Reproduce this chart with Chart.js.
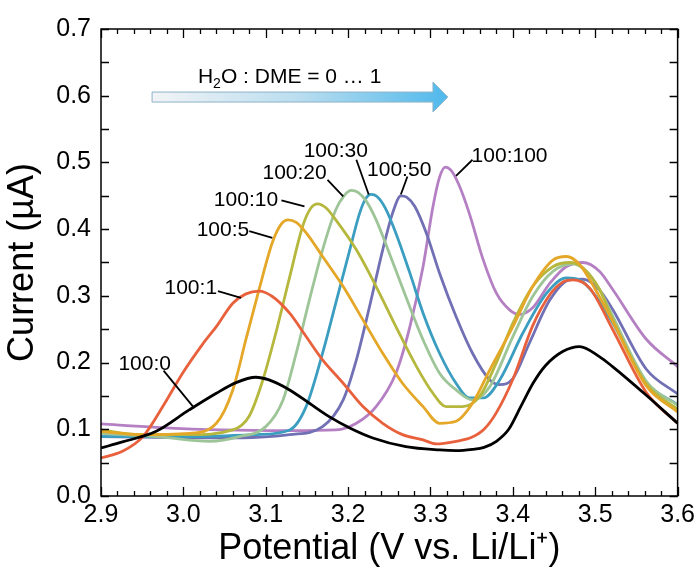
<!DOCTYPE html>
<html>
<head>
<meta charset="utf-8">
<script src="https://cdn.jsdelivr.net/npm/chart.js@4.4.1/dist/chart.umd.min.js"></script>
<style>
html,body{margin:0;padding:0;background:#fff}
#wrap{width:699px;height:572px}
</style>
</head>
<body>
<div id="wrap"><canvas id="c" width="699" height="572"></canvas></div>
<script>
// ===== DATA (potential V, current uA) =====
const names = ["100:0","100:1","100:5","100:10","100:20","100:30","100:50","100:100"];
const colors = ["#000000","#e8613c","#e5a727","#b5b83d","#9ec597","#3b9ec1","#7270b4","#b580c3"];

const pot0 = [2.900,2.926,2.967,3.007,3.040,3.064,3.088,3.104,3.129,3.153,3.177,3.202,3.230,3.270,3.311,3.331,3.351,3.365,3.380,3.395,3.410,3.425,3.440,3.461,3.481,3.505,3.521,3.562,3.600];
const cur0 = [0.072,0.081,0.097,0.129,0.154,0.170,0.178,0.174,0.159,0.139,0.119,0.102,0.087,0.074,0.069,0.068,0.070,0.073,0.082,0.100,0.135,0.170,0.196,0.217,0.224,0.209,0.194,0.151,0.109];

const pot1 = [2.900,2.926,2.951,2.975,2.999,3.023,3.040,3.060,3.076,3.092,3.108,3.129,3.149,3.169,3.194,3.218,3.242,3.266,3.291,3.307,3.331,3.350,3.365,3.380,3.400,3.424,3.445,3.461,3.473,3.493,3.521,3.562,3.600];
const cur1 = [0.057,0.067,0.089,0.134,0.184,0.227,0.254,0.289,0.303,0.307,0.299,0.274,0.239,0.204,0.169,0.134,0.109,0.092,0.084,0.078,0.082,0.088,0.100,0.125,0.175,0.255,0.302,0.321,0.324,0.312,0.250,0.155,0.109];

const pot2 = [2.900,2.947,3.007,3.040,3.060,3.076,3.092,3.108,3.119,3.127,3.137,3.150,3.169,3.194,3.218,3.242,3.266,3.291,3.311,3.331,3.351,3.372,3.400,3.424,3.449,3.465,3.481,3.500,3.521,3.562,3.600];
const cur2 = [0.097,0.092,0.094,0.109,0.159,0.235,0.310,0.380,0.408,0.414,0.410,0.393,0.359,0.314,0.264,0.214,0.169,0.134,0.109,0.112,0.139,0.189,0.254,0.314,0.354,0.359,0.347,0.310,0.262,0.165,0.126];

const pot3 = [2.900,2.947,3.007,3.060,3.080,3.096,3.113,3.129,3.145,3.155,3.163,3.173,3.185,3.210,3.234,3.258,3.283,3.303,3.319,3.339,3.360,3.380,3.400,3.424,3.449,3.469,3.485,3.505,3.521,3.562,3.600];
const cur3 = [0.099,0.092,0.092,0.099,0.120,0.172,0.248,0.328,0.405,0.432,0.438,0.432,0.414,0.369,0.314,0.254,0.194,0.154,0.134,0.134,0.150,0.200,0.259,0.314,0.344,0.350,0.342,0.310,0.265,0.168,0.130];

const pot4 = [2.900,2.967,3.032,3.068,3.100,3.121,3.137,3.153,3.169,3.185,3.195,3.204,3.212,3.222,3.234,3.250,3.270,3.291,3.311,3.331,3.351,3.372,3.400,3.424,3.449,3.473,3.489,3.505,3.521,3.562,3.600];
const cur4 = [0.094,0.089,0.082,0.089,0.104,0.144,0.214,0.294,0.369,0.429,0.450,0.458,0.455,0.442,0.414,0.364,0.299,0.234,0.184,0.159,0.144,0.164,0.239,0.299,0.337,0.348,0.337,0.310,0.270,0.172,0.136];

const pot5 = [2.900,3.007,3.088,3.129,3.149,3.169,3.185,3.202,3.214,3.221,3.228,3.235,3.245,3.258,3.275,3.291,3.311,3.331,3.347,3.364,3.384,3.412,3.441,3.465,3.481,3.501,3.521,3.562,3.600];
const cur5 = [0.089,0.089,0.092,0.099,0.134,0.214,0.289,0.369,0.424,0.445,0.452,0.449,0.432,0.394,0.334,0.274,0.214,0.169,0.147,0.147,0.174,0.244,0.304,0.327,0.324,0.299,0.260,0.170,0.137];

const pot6 = [2.900,3.048,3.129,3.169,3.194,3.210,3.226,3.242,3.254,3.264,3.271,3.281,3.295,3.311,3.331,3.351,3.372,3.384,3.400,3.420,3.445,3.469,3.485,3.505,3.521,3.562,3.600];
const cur6 = [0.089,0.087,0.092,0.104,0.144,0.204,0.284,0.369,0.424,0.450,0.448,0.434,0.394,0.334,0.269,0.214,0.174,0.167,0.176,0.229,0.294,0.324,0.325,0.309,0.280,0.190,0.153];

const pot7 = [2.900,2.967,3.048,3.129,3.185,3.210,3.234,3.258,3.275,3.291,3.303,3.311,3.318,3.325,3.335,3.347,3.364,3.380,3.396,3.408,3.424,3.445,3.465,3.485,3.505,3.521,3.562,3.600];
const cur7 = [0.108,0.103,0.099,0.098,0.099,0.109,0.134,0.184,0.254,0.344,0.434,0.478,0.493,0.488,0.465,0.424,0.354,0.304,0.279,0.272,0.282,0.319,0.344,0.350,0.337,0.310,0.235,0.194];

const pots = [pot0,pot1,pot2,pot3,pot4,pot5,pot6,pot7];
const curs = [cur0,cur1,cur2,cur3,cur4,cur5,cur6,cur7];

const xTitle = "Potential (V vs. Li/Li\u207A)";
const yTitle = "Current (\u00B5A)";

// ===== ANNOTATIONS (in data coords) =====
const notes = [
  {t:"100:0",   at:[2.953,0.197], from:[2.976,0.188], to:[3.013,0.132]},
  {t:"100:1",   at:[3.009,0.312], from:[3.042,0.307], to:[3.070,0.297]},
  {t:"100:5",   at:[3.048,0.399], from:[3.080,0.397], to:[3.108,0.387]},
  {t:"100:10",  at:[3.076,0.444], from:[3.119,0.443], to:[3.147,0.434]},
  {t:"100:20",  at:[3.135,0.484], from:[3.175,0.474], to:[3.194,0.449]},
  {t:"100:30",  at:[3.185,0.517], from:[3.210,0.504], to:[3.225,0.452]},
  {t:"100:50",  at:[3.262,0.489], from:[3.272,0.479], to:[3.264,0.452]},
  {t:"100:100", at:[3.396,0.509], from:[3.351,0.504], to:[3.331,0.480]}
];
const arrow = {x0:2.962, x1:3.303, tip:3.321, y:0.598, text:0.631, textX:3.129};

const FONT = "'Liberation Sans', Arial, sans-serif";

const datasets = names.map((n,i)=>({
  label:n,
  data:pots[i].map((v,k)=>({x:v,y:curs[i][k]})),
  borderColor:colors[i],
  backgroundColor:colors[i],
  borderWidth:2.8,
  pointRadius:0,
  fill:false,
  cubicInterpolationMode:"monotone"
}));

// frame + inward ticks
const frame = {
  id:"frame",
  afterDatasetsDraw(chart){
    const {ctx, chartArea:a, scales:{x,y}} = chart;
    ctx.save();
    ctx.strokeStyle="#000";
    ctx.lineWidth=1.5;
    ctx.strokeRect(a.left,a.top,a.right-a.left,a.bottom-a.top);
    ctx.beginPath();
    for(let i=0;i<=35;i++){
      const px = Math.round(x.getPixelForValue(2.9+i*0.02))+0.5;
      const len = i%5===0 ? 9 : 5;
      ctx.moveTo(px,a.bottom); ctx.lineTo(px,a.bottom-len);
      ctx.moveTo(px,a.top);    ctx.lineTo(px,a.top+len);
    }
    for(let i=0;i<=14;i++){
      const py = Math.round(y.getPixelForValue(i*0.05))+0.5;
      ctx.moveTo(a.left,py);  ctx.lineTo(a.left+8,py);
      ctx.moveTo(a.right,py); ctx.lineTo(a.right-8,py);
    }
    ctx.lineWidth=1.3;
    ctx.stroke();
    ctx.restore();
  }
};

// labels, leader lines, arrow
const notesPlugin = {
  id:"notes",
  afterDatasetsDraw(chart){
    const {ctx, scales:{x,y}} = chart;
    ctx.save();
    ctx.fillStyle="#000";
    ctx.strokeStyle="#000";
    ctx.lineWidth=1.8;
    ctx.font="21px "+FONT;
    ctx.textAlign="center";
    ctx.textBaseline="middle";
    notes.forEach(n=>{
      ctx.fillText(n.t, x.getPixelForValue(n.at[0]), y.getPixelForValue(n.at[1]));
      ctx.beginPath();
      ctx.moveTo(x.getPixelForValue(n.from[0]), y.getPixelForValue(n.from[1]));
      ctx.lineTo(x.getPixelForValue(n.to[0]), y.getPixelForValue(n.to[1]));
      ctx.stroke();
    });

    // arrow
    const x0=x.getPixelForValue(arrow.x0), x1=x.getPixelForValue(arrow.x1), xt=x.getPixelForValue(arrow.tip);
    const yc=y.getPixelForValue(arrow.y);
    const g=ctx.createLinearGradient(x0,0,xt,0);
    g.addColorStop(0,"#f2f4f6");
    g.addColorStop(0.5,"#b9ddef");
    g.addColorStop(1,"#4fb9ec");
    ctx.beginPath();
    ctx.moveTo(x0,yc-5); ctx.lineTo(x1,yc-5); ctx.lineTo(x1,yc-15);
    ctx.lineTo(xt,yc); ctx.lineTo(x1,yc+15); ctx.lineTo(x1,yc+5);
    ctx.lineTo(x0,yc+5); ctx.closePath();
    ctx.fillStyle=g; ctx.fill();
    ctx.strokeStyle="#8eb2c8"; ctx.lineWidth=1; ctx.stroke();

    // H2O : DME = 0 ... 1
    ctx.fillStyle="#000";
    ctx.textAlign="left";
    ctx.textBaseline="alphabetic";
    const big="21px "+FONT, small="14px "+FONT;
    const parts=[["H",big,0],["2",small,5],["O : DME = 0 \u2026 1",big,0]];
    let w=0;
    parts.forEach(p=>{ctx.font=p[1]; w+=ctx.measureText(p[0]).width;});
    let cx=x.getPixelForValue(arrow.textX)-w/2;
    const by=y.getPixelForValue(arrow.text)+8;
    parts.forEach(p=>{ctx.font=p[1]; ctx.fillText(p[0],cx,by+p[2]); cx+=ctx.measureText(p[0]).width;});
    ctx.restore();
  }
};

new Chart(document.getElementById("c").getContext("2d"),{
  type:"line",
  data:{datasets},
  options:{
    responsive:false,
    animation:false,
    layout:{padding:{left:0,right:21,top:29,bottom:0}},
    plugins:{legend:{display:false},tooltip:{enabled:false}},
    scales:{
      x:{
        type:"linear", min:2.9, max:3.6,
        afterFit:s=>{s.height=76;},
        grid:{display:false,drawTicks:false},
        border:{display:false},
        ticks:{stepSize:0.1,padding:4,color:"#000",font:{family:FONT,size:25},callback:v=>v.toFixed(1),maxRotation:0},
        title:{display:true,text:xTitle,color:"#000",font:{family:FONT,size:36},padding:{top:0,bottom:1}}
      },
      y:{
        min:0, max:0.7,
        afterFit:s=>{s.width=101;},
        grid:{display:false,drawTicks:false},
        border:{display:false},
        ticks:{stepSize:0.1,padding:10,color:"#000",font:{family:FONT,size:25},callback:v=>v.toFixed(1)},
        title:{display:true,text:yTitle,color:"#000",font:{family:FONT,size:36},padding:{top:1,bottom:0}}
      }
    }
  },
  plugins:[frame,notesPlugin]
});
</script>
</body>
</html>
